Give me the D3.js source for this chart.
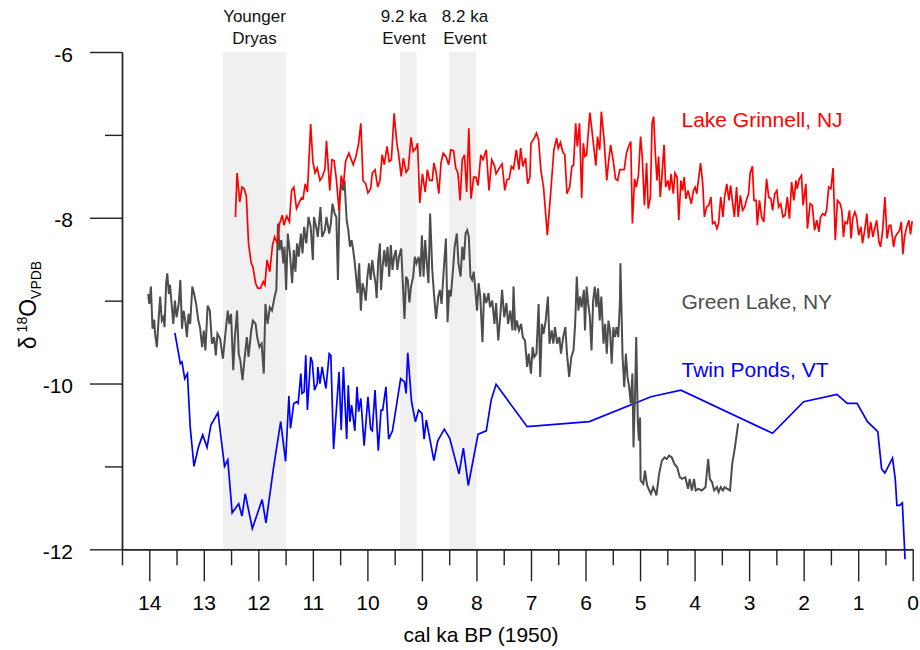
<!DOCTYPE html>
<html>
<head>
<meta charset="utf-8">
<script src="https://cdn.jsdelivr.net/npm/d3@7"></script>
<style>
  body { margin: 0; background: #fff; }
  text { font-family: Arial, "Liberation Sans", Helvetica, sans-serif; }
</style>
</head>
<body>
<div id="chart"></div>
<script>
// [cal ka BP, d18O permil VPDB]
const grinnell = [
  [12.42,-7.99],[12.39,-7.46],[12.34,-7.81],[12.30,-7.63],[12.26,-7.65],[12.22,-7.74],[12.18,-8.31],[12.13,-8.55],[12.10,-8.59],[12.05,-8.79],
  [12.01,-8.85],[11.96,-8.85],[11.91,-8.77],[11.88,-8.81],[11.84,-8.51],[11.79,-8.65],[11.74,-8.33],[11.70,-8.23],[11.65,-8.31],[11.61,-8.07],
  [11.56,-7.97],[11.53,-8.09],[11.48,-7.98],[11.43,-8.05],[11.39,-7.67],[11.35,-7.63],[11.30,-7.89],[11.26,-7.83],[11.21,-7.76],[11.18,-7.77],
  [11.14,-7.59],[11.10,-7.69],[11.04,-6.87],[11.00,-7.32],[10.96,-7.46],[10.92,-7.40],[10.87,-7.55],[10.83,-7.51],[10.78,-7.42],[10.75,-7.07],
  [10.69,-7.67],[10.65,-7.30],[10.61,-7.31],[10.57,-7.53],[10.52,-7.91],[10.48,-7.49],[10.44,-7.61],[10.40,-7.32],[10.34,-7.22],[10.26,-7.36],
  [10.21,-7.26],[10.16,-7.10],[10.12,-6.86],[10.08,-7.55],[10.03,-7.59],[9.99,-7.70],[9.94,-7.65],[9.91,-7.46],[9.86,-7.42],[9.81,-7.63],
  [9.77,-7.55],[9.73,-7.24],[9.69,-7.36],[9.64,-7.14],[9.60,-7.32],[9.56,-7.30],[9.51,-6.74],[9.46,-7.10],[9.43,-7.22],[9.38,-7.50],
  [9.34,-7.28],[9.29,-7.45],[9.25,-7.41],[9.20,-7.03],[9.16,-7.20],[9.11,-7.16],[9.08,-7.10],[9.04,-7.82],[8.99,-7.47],[8.94,-7.69],
  [8.90,-7.42],[8.86,-7.55],[8.81,-7.55],[8.78,-7.34],[8.74,-7.45],[8.69,-7.71],[8.65,-7.34],[8.61,-7.22],[8.56,-7.26],[8.51,-7.36],
  [8.47,-7.18],[8.42,-7.19],[8.38,-7.40],[8.34,-7.46],[8.30,-7.79],[8.26,-7.30],[8.22,-7.24],[8.18,-7.69],[8.14,-6.92],[8.10,-7.77],
  [8.05,-7.51],[8.01,-7.51],[7.97,-7.61],[7.92,-7.24],[7.88,-7.30],[7.82,-7.18],[7.77,-7.67],[7.72,-7.30],[7.67,-7.37],[7.64,-7.47],
  [7.59,-7.41],[7.53,-7.35],[7.48,-7.67],[7.44,-7.54],[7.40,-7.53],[7.36,-7.38],[7.32,-7.41],[7.27,-7.18],[7.22,-7.42],[7.19,-7.16],
  [7.15,-7.38],[7.10,-7.28],[7.06,-7.59],[7.02,-7.51],[7.00,-7.10],[6.94,-7.04],[6.90,-6.98],[6.86,-7.06],[6.82,-7.42],[6.77,-7.63],
  [6.70,-8.21],[6.64,-7.71],[6.58,-7.18],[6.53,-7.04],[6.50,-7.16],[6.46,-7.09],[6.42,-7.20],[6.38,-7.24],[6.34,-7.71],[6.29,-7.63],
  [6.25,-7.38],[6.22,-7.37],[6.18,-6.86],[6.15,-7.14],[6.11,-6.86],[6.07,-7.76],[6.04,-7.10],[6.01,-7.26],[5.98,-7.24],[5.95,-6.98],
  [5.92,-6.73],[5.89,-6.90],[5.85,-7.14],[5.81,-7.37],[5.78,-7.02],[5.74,-7.18],[5.71,-6.72],[5.66,-7.06],[5.61,-7.55],[5.58,-7.34],
  [5.54,-7.12],[5.49,-7.32],[5.45,-7.53],[5.41,-7.55],[5.37,-7.42],[5.32,-7.42],[5.29,-7.42],[5.25,-7.22],[5.21,-7.14],[5.17,-7.08],
  [5.14,-8.07],[5.10,-7.53],[5.07,-7.63],[5.03,-7.49],[4.99,-7.02],[4.96,-7.26],[4.92,-7.85],[4.88,-7.34],[4.85,-7.89],[4.81,-7.75],
  [4.78,-6.86],[4.75,-6.78],[4.72,-7.22],[4.69,-7.55],[4.66,-7.26],[4.63,-7.75],[4.60,-7.51],[4.56,-7.12],[4.53,-7.63],[4.49,-7.55],
  [4.46,-7.67],[4.43,-7.47],[4.39,-7.71],[4.36,-7.46],[4.32,-7.51],[4.29,-8.03],[4.25,-7.55],[4.22,-7.67],[4.19,-7.51],[4.16,-7.77],
  [4.12,-7.67],[4.09,-7.75],[4.06,-7.83],[4.02,-7.67],[3.99,-7.63],[3.96,-7.71],[3.93,-7.55],[3.89,-7.34],[3.85,-7.59],[3.82,-7.99],
  [3.78,-7.87],[3.74,-7.85],[3.70,-7.75],[3.67,-8.07],[3.63,-8.05],[3.59,-8.13],[3.56,-8.07],[3.52,-7.75],[3.48,-7.99],[3.45,-7.75],
  [3.41,-7.59],[3.37,-7.79],[3.34,-7.61],[3.30,-7.83],[3.27,-7.99],[3.23,-7.63],[3.20,-7.99],[3.16,-7.73],[3.12,-7.91],[3.08,-7.87],
  [3.05,-7.79],[3.01,-7.71],[2.98,-7.46],[2.94,-7.38],[2.91,-7.79],[2.87,-7.79],[2.85,-8.09],[2.81,-7.79],[2.77,-7.99],[2.73,-8.05],
  [2.68,-7.53],[2.64,-7.75],[2.60,-7.77],[2.57,-7.91],[2.53,-7.71],[2.49,-7.67],[2.46,-7.87],[2.42,-7.83],[2.38,-7.99],[2.34,-7.97],
  [2.30,-7.75],[2.26,-8.01],[2.22,-7.57],[2.18,-7.79],[2.14,-7.55],[2.12,-7.65],[2.08,-7.53],[2.04,-7.49],[2.01,-7.85],[1.96,-7.59],
  [1.93,-8.13],[1.88,-7.83],[1.84,-7.85],[1.80,-8.15],[1.76,-8.03],[1.72,-8.17],[1.69,-7.99],[1.65,-7.95],[1.61,-7.97],[1.58,-7.91],
  [1.54,-7.63],[1.50,-7.65],[1.46,-7.40],[1.42,-8.27],[1.38,-7.79],[1.33,-7.83],[1.30,-7.91],[1.27,-8.23],[1.24,-8.05],[1.20,-8.07],
  [1.16,-7.91],[1.13,-8.25],[1.10,-8.01],[1.06,-7.93],[1.03,-7.99],[0.99,-8.21],[0.95,-8.11],[0.92,-8.31],[0.88,-8.15],[0.84,-7.95],
  [0.81,-8.25],[0.77,-8.05],[0.73,-8.23],[0.69,-8.11],[0.66,-8.03],[0.62,-8.29],[0.59,-8.35],[0.55,-8.15],[0.51,-7.75],[0.47,-8.25],
  [0.43,-8.09],[0.40,-8.09],[0.35,-8.35],[0.32,-8.23],[0.28,-8.19],[0.24,-8.15],[0.21,-8.05],[0.18,-8.44],[0.15,-8.23],[0.11,-8.11],
  [0.07,-8.03],[0.04,-8.20],[0.01,-8.04]
];

const greenLake = [
  [14.02,-8.92],[14.00,-9.04],[13.97,-8.83],[13.94,-9.34],[13.91,-9.23],[13.89,-9.42],[13.86,-9.56],[13.83,-9.24],[13.80,-8.95],[13.77,-9.24],
  [13.74,-9.20],[13.72,-9.32],[13.69,-8.79],[13.67,-8.67],[13.64,-8.92],[13.62,-8.81],[13.59,-9.04],[13.56,-9.28],[13.53,-9.00],[13.50,-9.20],
  [13.46,-9.04],[13.43,-8.75],[13.40,-9.34],[13.37,-9.12],[13.34,-9.24],[13.31,-9.44],[13.28,-9.16],[13.25,-9.28],[13.21,-8.83],[13.18,-8.91],
  [13.14,-9.04],[13.10,-9.24],[13.07,-9.32],[13.03,-9.56],[13.00,-9.36],[12.97,-9.60],[12.93,-9.06],[12.89,-9.12],[12.85,-9.52],[12.81,-9.44],
  [12.78,-9.66],[12.75,-9.40],[12.70,-9.46],[12.65,-9.70],[12.61,-9.44],[12.56,-9.12],[12.53,-9.28],[12.50,-9.16],[12.46,-9.84],[12.43,-9.44],
  [12.39,-9.12],[12.36,-9.64],[12.33,-9.72],[12.29,-9.96],[12.25,-9.68],[12.21,-9.44],[12.18,-9.68],[12.13,-9.36],[12.10,-9.24],[12.05,-9.28],
  [12.02,-9.44],[11.98,-9.56],[11.94,-9.52],[11.90,-9.88],[11.87,-9.04],[11.83,-9.28],[11.79,-9.08],[11.75,-9.12],[11.70,-8.95],[11.67,-8.87],
  [11.64,-8.07],[11.61,-8.39],[11.58,-8.27],[11.54,-8.55],[11.52,-8.35],[11.49,-8.87],[11.46,-8.19],[11.42,-8.43],[11.38,-8.79],[11.35,-8.39],
  [11.32,-8.65],[11.29,-8.31],[11.26,-8.47],[11.22,-8.19],[11.19,-8.43],[11.16,-8.11],[11.12,-8.31],[11.08,-7.99],[11.04,-8.11],[11.00,-8.51],
  [10.98,-7.99],[10.94,-8.11],[10.91,-8.23],[10.86,-7.87],[10.83,-8.23],[10.78,-8.15],[10.75,-7.99],[10.70,-8.19],[10.67,-8.07],[10.64,-7.83],
  [10.60,-7.95],[10.57,-7.99],[10.54,-8.75],[10.51,-7.79],[10.48,-7.59],[10.44,-7.67],[10.42,-7.55],[10.38,-8.03],[10.35,-8.15],[10.32,-8.35],
  [10.29,-8.27],[10.26,-8.39],[10.23,-8.55],[10.18,-8.91],[10.15,-8.55],[10.12,-9.12],[10.09,-8.79],[10.06,-8.87],[10.03,-9.00],[10.00,-8.71],
  [9.97,-8.55],[9.94,-8.75],[9.91,-8.51],[9.88,-8.67],[9.85,-8.79],[9.83,-8.97],[9.80,-8.51],[9.77,-8.31],[9.75,-8.87],[9.72,-8.59],
  [9.69,-8.39],[9.66,-8.59],[9.63,-8.35],[9.60,-8.71],[9.57,-8.33],[9.54,-8.63],[9.51,-8.47],[9.48,-8.39],[9.45,-8.63],[9.42,-8.47],
  [9.38,-8.37],[9.35,-8.79],[9.32,-9.22],[9.29,-8.71],[9.26,-8.75],[9.23,-9.02],[9.20,-8.83],[9.16,-8.71],[9.13,-8.47],[9.10,-8.55],
  [9.06,-8.47],[9.03,-8.71],[9.00,-8.21],[8.97,-8.71],[8.94,-8.27],[8.91,-8.55],[8.88,-8.79],[8.85,-7.95],[8.81,-8.63],[8.78,-8.91],
  [8.74,-9.22],[8.70,-8.95],[8.67,-8.87],[8.64,-9.04],[8.60,-8.63],[8.56,-8.25],[8.53,-9.26],[8.50,-8.87],[8.47,-8.95],[8.43,-8.63],
  [8.40,-8.35],[8.36,-8.19],[8.33,-8.55],[8.29,-8.71],[8.26,-8.35],[8.23,-8.51],[8.20,-8.19],[8.17,-8.15],[8.14,-8.23],[8.11,-8.71],
  [8.08,-8.75],[8.05,-8.65],[8.02,-8.87],[7.99,-9.12],[7.96,-8.79],[7.93,-8.95],[7.89,-9.50],[7.86,-8.91],[7.82,-9.03],[7.78,-8.91],
  [7.75,-9.08],[7.71,-9.00],[7.67,-9.28],[7.64,-9.03],[7.60,-9.48],[7.56,-9.16],[7.53,-8.87],[7.49,-9.20],[7.45,-9.03],[7.42,-9.28],
  [7.38,-9.12],[7.34,-9.36],[7.32,-8.83],[7.29,-9.36],[7.26,-9.24],[7.22,-9.36],[7.18,-9.28],[7.15,-9.44],[7.11,-9.48],[7.07,-9.80],
  [7.04,-9.64],[7.00,-9.88],[6.97,-9.56],[6.94,-9.68],[6.90,-9.64],[6.86,-9.04],[6.83,-9.92],[6.80,-9.28],[6.77,-9.40],[6.73,-9.24],
  [6.69,-8.95],[6.66,-9.52],[6.62,-9.36],[6.59,-9.52],[6.56,-9.32],[6.52,-9.52],[6.48,-9.44],[6.45,-9.64],[6.41,-9.44],[6.37,-9.32],
  [6.34,-9.64],[6.30,-9.92],[6.26,-9.68],[6.22,-9.60],[6.19,-9.28],[6.16,-8.71],[6.13,-9.12],[6.10,-8.95],[6.07,-9.08],[6.03,-8.87],
  [6.01,-9.36],[5.98,-8.83],[5.95,-9.04],[5.92,-9.20],[5.89,-9.60],[5.86,-9.00],[5.83,-8.83],[5.80,-9.08],[5.77,-8.85],[5.74,-9.24],
  [5.71,-8.95],[5.67,-9.52],[5.64,-9.28],[5.61,-9.64],[5.58,-9.24],[5.55,-9.36],[5.52,-9.76],[5.49,-9.32],[5.46,-9.44],[5.43,-9.32],
  [5.40,-9.44],[5.37,-9.04],[5.36,-8.55],[5.32,-9.68],[5.29,-10.04],[5.26,-9.64],[5.23,-9.92],[5.20,-10.04],[5.17,-10.24],[5.14,-9.88],
  [5.12,-10.77],[5.09,-10.08],[5.07,-9.44],[5.04,-10.48],[5.02,-10.69],[5.00,-10.41],[4.99,-11.17],[4.94,-11.21],[4.91,-11.05],[4.87,-11.23],
  [4.83,-11.29],[4.80,-11.33],[4.76,-11.25],[4.72,-11.31],[4.70,-11.35],[4.65,-11.09],[4.60,-10.93],[4.55,-10.89],[4.51,-10.91],[4.47,-10.87],
  [4.42,-10.89],[4.37,-10.97],[4.32,-11.01],[4.27,-11.13],[4.23,-11.15],[4.17,-11.13],[4.12,-11.27],[4.09,-11.15],[4.05,-11.29],[4.01,-11.15],
  [3.98,-11.29],[3.93,-11.27],[3.87,-11.29],[3.80,-11.25],[3.75,-10.91],[3.72,-11.15],[3.68,-11.19],[3.64,-11.29],[3.59,-11.25],[3.56,-11.31],
  [3.52,-11.25],[3.48,-11.29],[3.45,-11.25],[3.40,-11.27],[3.35,-11.29],[3.31,-10.97],[3.26,-10.77],[3.20,-10.48]
];

const twinPonds = [
  [13.53,-9.39],[13.43,-9.76],[13.40,-9.74],[13.35,-9.94],[13.30,-9.88],[13.25,-10.52],[13.18,-11.00],[13.10,-10.77],[13.02,-10.62],[12.94,-10.77],
  [12.87,-10.50],[12.74,-10.35],[12.62,-11.00],[12.56,-10.92],[12.48,-11.56],[12.36,-11.45],[12.30,-11.60],[12.24,-11.33],[12.11,-11.75],[11.93,-11.40],
  [11.86,-11.68],[11.72,-11.01],[11.59,-10.46],[11.50,-10.94],[11.44,-10.15],[11.41,-10.54],[11.35,-10.24],[11.30,-10.22],[11.27,-10.24],[11.22,-9.88],
  [11.20,-10.12],[11.16,-10.10],[11.13,-9.66],[11.10,-10.32],[11.04,-9.68],[11.01,-9.74],[10.97,-10.08],[10.92,-10.00],[10.91,-9.80],[10.87,-10.00],
  [10.83,-9.80],[10.80,-9.92],[10.76,-10.06],[10.70,-9.64],[10.67,-9.66],[10.62,-10.79],[10.52,-9.86],[10.48,-10.56],[10.44,-9.80],[10.38,-10.67],
  [10.35,-10.02],[10.32,-10.46],[10.29,-10.26],[10.23,-10.57],[10.19,-10.04],[10.16,-10.34],[10.12,-10.18],[10.06,-10.75],[9.99,-10.16],[9.94,-10.55],
  [9.91,-10.57],[9.86,-10.08],[9.80,-10.81],[9.75,-10.32],[9.72,-10.32],[9.66,-10.04],[9.61,-10.67],[9.54,-10.57],[9.47,-10.28],[9.39,-9.94],
  [9.32,-9.98],[9.29,-10.12],[9.26,-9.63],[9.19,-10.22],[9.12,-10.46],[9.06,-10.32],[9.00,-10.36],[8.96,-10.67],[8.92,-10.44],[8.78,-10.93],
  [8.71,-10.69],[8.59,-10.55],[8.49,-10.66],[8.32,-11.09],[8.24,-10.78],[8.15,-11.23],[7.97,-10.61],[7.82,-10.57],[7.73,-10.20],[7.64,-10.01],
  [7.07,-10.52],[5.93,-10.46],[4.80,-10.16],[4.25,-10.08],[2.57,-10.60],[2.00,-10.22],[1.39,-10.13],[1.20,-10.24],[1.02,-10.24],[0.83,-10.46],
  [0.64,-10.58],[0.57,-11.03],[0.51,-11.08],[0.37,-10.90],[0.32,-11.15],[0.29,-11.47],[0.24,-11.47],[0.19,-11.44],[0.14,-12.12]
];

const xMajorTicks = [14, 13, 12, 11, 10, 9, 8, 7, 6, 5, 4, 3, 2, 1, 0];
const xMinorTicks = [14.5, 13.5, 12.5, 11.5, 10.5, 9.5, 8.5, 7.5, 6.5, 5.5, 4.5, 3.5, 2.5, 1.5, 0.5];
const yMajorTicks = [-6, -8, -10, -12];
const yMinorTicks = [-7, -9, -11];

const eventNames = [["Younger", "Dryas"], ["9.2 ka", "Event"], ["8.2 ka", "Event"]];
const eventStart = [12.65, 9.40, 8.50];
const eventEnd = [11.49, 9.10, 8.00];
const eventLabelAge = [12.07, 9.33, 8.21];

const seriesNames = ["Lake Grinnell, NJ", "Green Lake, NY", "Twin Ponds, VT"];
const seriesColors = ["#ff0000", "#4d4d4d", "#0000ff"];
const seriesWidths = [1.7, 2, 1.7];
const seriesLabelValue = [-6.90, -9.10, -9.92];
const seriesLabelAge = 4.24;

const width = 920, height = 650;

const svg = d3.select("#chart").append("svg")
  .attr("width", width)
  .attr("height", height)
  .style("display", "block")
  .style("background", "#fff");

const x = d3.scaleLinear().domain([14.5, 0]).range([122, 912.7]);
const y = d3.scaleLinear().domain([-12, -6]).range([549.3, 52]);

// shaded events
eventNames.forEach((name, i) => {
  svg.append("rect")
    .attr("x", x(eventStart[i]))
    .attr("y", y(-6))
    .attr("width", x(eventEnd[i]) - x(eventStart[i]))
    .attr("height", y(-12) - y(-6))
    .attr("fill", "#f0f0f0");

  svg.append("text")
    .attr("x", x(eventLabelAge[i]))
    .attr("y", 22)
    .attr("text-anchor", "middle")
    .style("font-size", "17px")
    .attr("fill", "#111")
    .text(name[0]);

  svg.append("text")
    .attr("x", x(eventLabelAge[i]))
    .attr("y", 43.5)
    .attr("text-anchor", "middle")
    .style("font-size", "17px")
    .attr("fill", "#111")
    .text(name[1]);
});

// axes
const styleAxis = g => {
  g.select(".domain").attr("stroke", "#222").attr("stroke-width", 1.4);
  g.selectAll(".tick line").attr("stroke", "#222").attr("stroke-width", 1.4);
  g.selectAll(".tick text").style("font-size", "21px").attr("fill", "#000")
    .style("font-family", "Arial, 'Liberation Sans', sans-serif");
};

svg.append("g")
  .attr("transform", `translate(0,${y(-12)})`)
  .call(d3.axisBottom(x).tickValues(xMinorTicks).tickSize(16).tickSizeOuter(0).tickFormat(""))
  .call(styleAxis);

svg.append("g")
  .attr("transform", `translate(0,${y(-12)})`)
  .call(d3.axisBottom(x).tickValues(xMajorTicks).tickSize(32).tickSizeOuter(0).tickPadding(13.7).tickFormat(d => String(d)))
  .call(styleAxis);

svg.append("g")
  .attr("transform", `translate(${x(14.5)},0)`)
  .call(d3.axisLeft(y).tickValues(yMinorTicks).tickSize(17).tickSizeOuter(0).tickFormat(""))
  .call(styleAxis);

svg.append("g")
  .attr("transform", `translate(${x(14.5)},0)`)
  .call(d3.axisLeft(y).tickValues(yMajorTicks).tickSize(32).tickSizeOuter(0).tickPadding(17).tickFormat(d => String(d)))
  .call(styleAxis)
  .selectAll(".tick text").attr("dy", "0.43em");

// axis titles
svg.append("text")
  .attr("x", 481)
  .attr("y", 642)
  .attr("text-anchor", "middle")
  .style("font-size", "21px")
  .attr("fill", "#000")
  .text("cal ka BP (1950)");

const yTitle = svg.append("text")
  .attr("transform", `translate(36,${305}) rotate(-90)`)
  .attr("text-anchor", "middle")
  .style("font-size", "23px")
  .attr("fill", "#000");
yTitle.append("tspan").text("δ");
yTitle.append("tspan").attr("dx", 4).attr("dy", -9).style("font-size", "14px").text("18");
yTitle.append("tspan").attr("dy", 9).text("O");
yTitle.append("tspan").attr("dy", 5).style("font-size", "14px").text("VPDB");

// records
const line = d3.line()
  .x(d => x(d[0]))
  .y(d => y(d[1]));

[twinPonds, greenLake, grinnell].forEach((data, i) => {
  const k = 2 - i;
  svg.append("path")
    .datum(data)
    .attr("fill", "none")
    .attr("stroke", seriesColors[k])
    .attr("stroke-width", seriesWidths[k])
    .attr("d", line);
});

seriesNames.forEach((name, i) => {
  svg.append("text")
    .attr("x", x(seriesLabelAge))
    .attr("y", y(seriesLabelValue[i]))
    .style("font-size", "21px")
    .attr("fill", seriesColors[i])
    .text(name);
});
</script>
</body>
</html>
